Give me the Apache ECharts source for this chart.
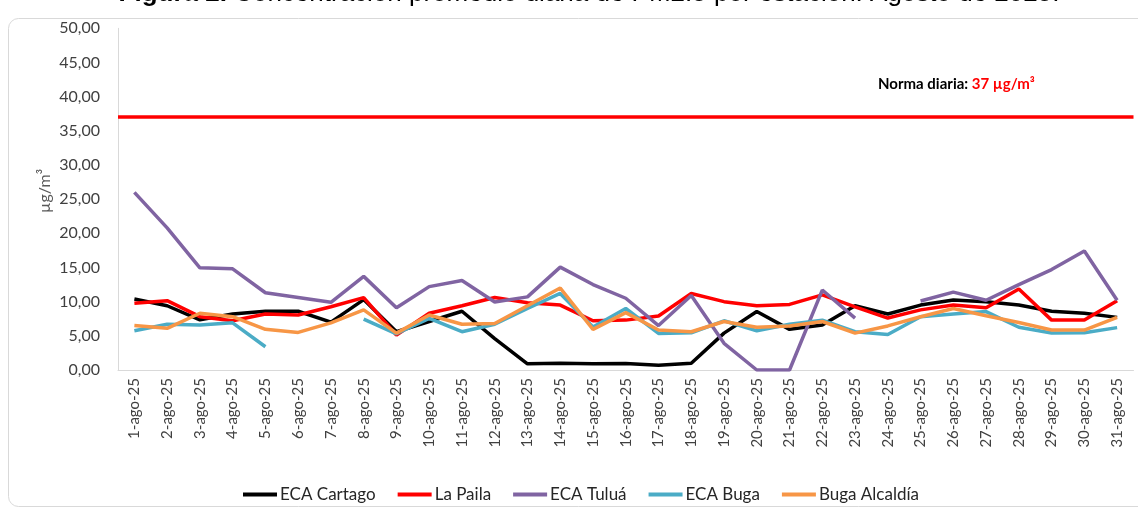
<!DOCTYPE html>
<html><head><meta charset="utf-8">
<script src="https://cdn.jsdelivr.net/npm/echarts@6/dist/echarts.min.js"></script>
<style>html,body{margin:0;padding:0;background:#fff}#c{width:1138px;height:511px}</style>
</head><body><div id="c"></div>
<script>
const categories = ['1-ago-25','2-ago-25','3-ago-25','4-ago-25','5-ago-25','6-ago-25','7-ago-25','8-ago-25','9-ago-25','10-ago-25','11-ago-25','12-ago-25','13-ago-25','14-ago-25','15-ago-25','16-ago-25','17-ago-25','18-ago-25','19-ago-25','20-ago-25','21-ago-25','22-ago-25','23-ago-25','24-ago-25','25-ago-25','26-ago-25','27-ago-25','28-ago-25','29-ago-25','30-ago-25','31-ago-25'];
const ecaCartago = [10.4, 9.4, 7.35, 8.2, 8.6, 8.6, 7.0, 10.3, 5.6, 7.1, 8.6, 4.6, 0.9, 1.0, 0.9, 0.95, 0.7, 1.0, 5.4, 8.55, 5.95, 6.6, 9.4, 8.2, 9.5, 10.25, 10.0, 9.5, 8.6, 8.3, 7.7];
const laPaila = [9.75, 10.15, 7.8, 7.2, 8.2, 8.05, 9.25, 10.6, 5.1, 8.3, 9.4, 10.6, 9.85, 9.5, 7.2, 7.3, 7.9, 11.2, 10.0, 9.4, 9.6, 11.0, 9.25, 7.6, 8.8, 9.5, 9.1, 11.85, 7.3, 7.3, 10.15];
const ecaTulua = [26.0, 20.8, 14.95, 14.8, 11.3, 10.6, 9.9, 13.7, 9.1, 12.2, 13.1, 9.95, 10.7, 15.05, 12.5, 10.5, 6.5, 10.9, 3.9, 0, 0, 11.7, 7.6, null, 10.1, 11.4, 10.2, 12.5, 14.7, 17.4, 10.2];
const ecaBuga = [5.75, 6.7, 6.6, 6.9, 3.4, null, null, 7.45, 5.3, 7.55, 5.6, 6.7, 9.0, 11.2, 6.3, 9.0, 5.35, 5.45, 7.2, 5.75, 6.7, 7.3, 5.6, 5.2, 7.8, 8.2, 8.55, 6.25, 5.4, 5.45, 6.2];
const bugaAlcaldia = [6.5, 6.1, 8.3, 7.8, 5.95, 5.5, 6.9, 8.8, 5.4, 8.05, 6.7, 6.8, 9.4, 12.0, 5.95, 8.4, 5.85, 5.6, 7.1, 6.25, 6.45, 7.1, 5.4, 6.45, 7.8, 9.0, 7.95, 6.95, 5.85, 5.85, 7.7];
const normaDiaria = 37;
const yTicks = [0, 5, 10, 15, 20, 25, 30, 35, 40, 45, 50];

const chart = echarts.init(document.getElementById('c'), null, {renderer: 'canvas'});
const mk = (name, data, color) => ({
  name, type: 'line', data, symbol: 'none', showSymbol: false,
  lineStyle: {color, width: 3.5}, itemStyle: {color},
  connectNulls: false, animation: false
});
const s0 = mk('ECA Cartago', ecaCartago, '#000000');
s0.markLine = {
  silent: true, symbol: 'none', label: {show: false},
  lineStyle: {color: '#ff0000', width: 3.5, type: 'solid'},
  data: [{yAxis: normaDiaria}], animation: false
};
chart.setOption({
  animation: false,
  backgroundColor: '#ffffff',
  grid: {left: 118, right: 4.5, top: 28.3, bottom: 141, containLabel: false},
  xAxis: {
    type: 'category', data: categories, boundaryGap: true,
    axisLine: {show: true, lineStyle: {color: '#d9d9d9', width: 1}},
    axisTick: {show: false},
    axisLabel: {rotate: 90, interval: 0, fontFamily: 'Lato', fontSize: 15, color: '#404040', margin: 8},
    splitLine: {show: false}
  },
  yAxis: {
    type: 'value', min: yTicks[0], max: yTicks[yTicks.length - 1], interval: 5,
    axisLine: {show: true, lineStyle: {color: '#d9d9d9', width: 1}},
    axisTick: {show: false},
    splitLine: {show: false},
    axisLabel: {fontFamily: 'Lato', fontSize: 16, color: '#404040', margin: 18,
      formatter: v => v.toFixed(2).replace('.', ',')}
  },
  legend: {
    left: 238, top: 481, icon: 'rect', itemWidth: 34, itemHeight: 4, itemGap: 22,
    textStyle: {fontFamily: 'Lato', fontSize: 17, color: '#262626', padding: [0, 0, 0, -2]},
    data: ['ECA Cartago', 'La Paila', 'ECA Tuluá', 'ECA Buga', 'Buga Alcaldía']
  },
  graphic: [
    {type: 'rect', silent: true, z: -1, shape: {x: 8.5, y: 18.5, width: 1140, height: 488, r: 10},
      style: {fill: 'none', stroke: '#d9d9d9', lineWidth: 1}},
    {type: 'text', x: 589, y: -19, style: {
      text: '{b|Figura 2.} Concentración promedio diaria de PM2.5 por estación. Agosto de 2025.',
      font: '26px "Liberation Sans"', fill: '#000', align: 'center', verticalAlign: 'top',
      rich: {b: {fontWeight: 'bold', fontSize: 26, fontFamily: 'Liberation Sans'}}
    }},
    {type: 'text', x: 45, y: 191, rotation: Math.PI / 2, style: {
      text: 'µg/m³', font: '16px Lato', fill: '#595959', align: 'center', verticalAlign: 'middle'
    }},
    {type: 'text', x: 878, y: 84, style: {
      text: '{k|Norma diaria: }{r|37 µg/m³}', verticalAlign: 'middle',
      rich: {
        k: {fontFamily: 'Lato', fontWeight: 'bold', fontSize: 15, fill: '#000000'},
        r: {fontFamily: 'Lato', fontWeight: 'bold', fontSize: 15, fill: '#ff0000'}
      }
    }}
  ],
  series: [
    s0,
    mk('La Paila', laPaila, '#ff0000'),
    mk('ECA Tuluá', ecaTulua, '#8064a2'),
    mk('ECA Buga', ecaBuga, '#4bacc6'),
    mk('Buga Alcaldía', bugaAlcaldia, '#f79646')
  ]
});
</script></body></html>
